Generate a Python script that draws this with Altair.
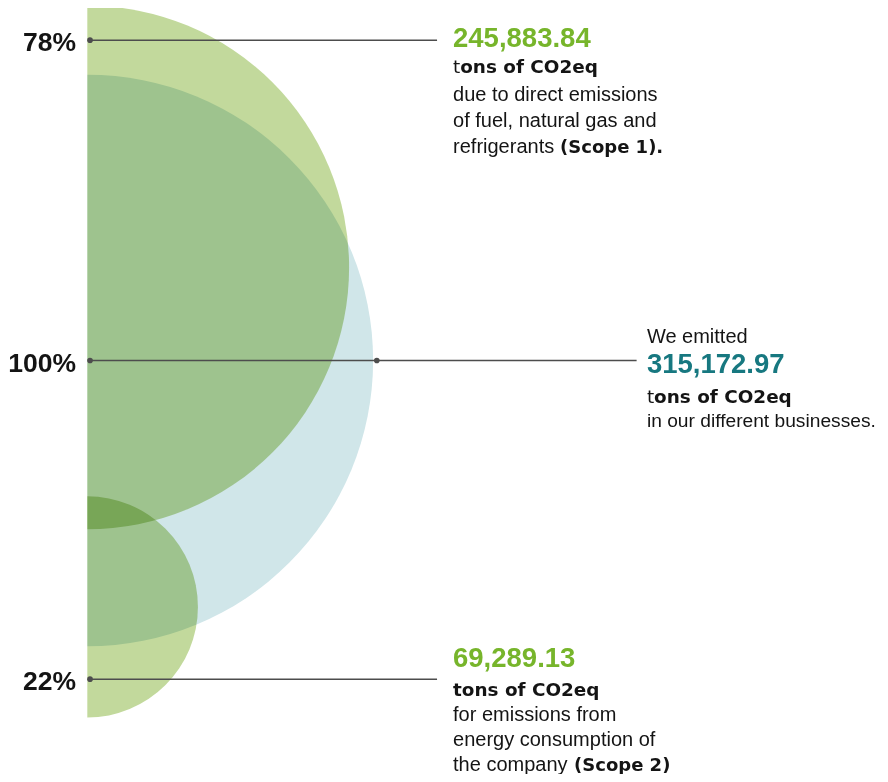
import math
import altair as alt
import pandas as pd

# ---------------- data ----------------
pct_labels = ["78%", "100%", "22%"]
pct_values = [78, 100, 22]
tons_labels = ["245,883.84", "315,172.97", "69,289.13"]

circle_names = ["Total", "Scope 1", "Scope 2"]
circle_radius = [100, 91.6, 38.7]          # relative radius (Total = 100)
circle_center_y = [0, 32.6, -86.3]         # vertical centre, same units
circle_colors = ["#d0e6e9", "#c2d99c", "#c2d99c"]

leader_y = [112.2, 0, -111.6]              # 78%, 100%, 22%
leader_start = [0.95, 0.95, 0.95]
leader_end = [122.5, 192.4, 122.5]
dot_x = [0.95, 0.95, 0.95, 101.4]
dot_y = [112.2, 0, -111.6, 0]
text_x = [128.1, 196.0, 128.1]

tons_word_t = "t"
tons_word_rest = "ons of CO2eq"
tons_word_full = "tons of CO2eq"
scope1_body = ["due to direct emissions", "of fuel, natural gas and", "refrigerants "]
scope1_tag = "(Scope 1)."
total_intro = "We emitted"
total_body = "in our different businesses."
scope2_body = ["for emissions from", "energy consumption of", "the company "]
scope2_tag = "(Scope 2)"

# ---------------- styling ----------------
W, H = 872, 766
XS = alt.Scale(domain=[-27.78, 277.65], nice=False, zero=False)
YS = alt.Scale(domain=[-144.83, 123.47], nice=False, zero=False)
BODY_FONT = "Liberation Sans"
HEAVY_FONT = "DejaVu Sans"
GREEN = "#77b52b"
TEAL = "#177880"
INK = "#141414"
LINE = "#4d4d4d"

ONE = pd.DataFrame({"k": [0]})


def txt(text, x, y, dy, size, font=BODY_FONT, weight="normal", color=INK,
        dx=0, align="left", line_height=None):
    kw = dict(text=text, align=align, baseline="alphabetic", dx=dx, dy=dy,
              fontSize=size, font=font, fontWeight=weight, color=color)
    if line_height is not None:
        kw["lineHeight"] = line_height
    return alt.Chart(ONE).mark_text(**kw).encode(
        x=alt.X(datum=x, scale=XS, axis=None),
        y=alt.Y(datum=y, scale=YS, axis=None),
    )


circles_df = pd.DataFrame({
    "name": circle_names, "cx": [0, 0, 0], "cy": circle_center_y,
    "r": circle_radius, "color": circle_colors,
})
arcs = alt.Chart(circles_df).mark_arc(blend="multiply").encode(
    x=alt.X("cx:Q", scale=XS, axis=None),
    y=alt.Y("cy:Q", scale=YS, axis=None),
    radius=alt.Radius("r:Q", stack=None,
                      scale=alt.Scale(type="linear", domain=[0, 100],
                                      range=[0, 285.8], zero=True)),
    theta=alt.value(0),
    theta2=alt.value(math.pi),
    color=alt.Color("color:N", scale=None),
)

leaders_df = pd.DataFrame({"y": leader_y, "x0": leader_start, "x1": leader_end})
rules = alt.Chart(leaders_df).mark_rule(color=LINE, strokeWidth=1.5).encode(
    x=alt.X("x0:Q", scale=XS, axis=None),
    x2="x1:Q",
    y=alt.Y("y:Q", scale=YS, axis=None),
)

dots_df = pd.DataFrame({"x": dot_x, "y": dot_y})
dots = alt.Chart(dots_df).mark_circle(size=32, color=LINE, opacity=1).encode(
    x=alt.X("x:Q", scale=XS, axis=None),
    y=alt.Y("y:Q", scale=YS, axis=None),
)

pct_df = pd.DataFrame({"label": pct_labels, "value": pct_values, "y": leader_y, "x": [0, 0, 0]})
pcts = alt.Chart(pct_df).mark_text(
    align="right", baseline="alphabetic", dx=-11.3, dy=11.3, fontSize=26.5,
    font=BODY_FONT, fontWeight="bold", color=INK,
).encode(
    x=alt.X("x:Q", scale=XS, axis=None),
    y=alt.Y("y:Q", scale=YS, axis=None),
    text="label:N",
)

layers = [arcs, rules, dots, pcts]

# Block 1 (Scope 1)
x1, y1 = text_x[0], leader_y[0]
layers += [
    txt(tons_labels[0], x1, y1, 6.4, 27.5, weight="bold", color=GREEN),
    txt(tons_word_t, x1, y1, 33, 18.4, font=HEAVY_FONT),
    txt(tons_word_rest, x1, y1, 33, 18.4, font=HEAVY_FONT, weight="bold", dx=7.2),
    txt(scope1_body, x1, y1, 60.7, 20, line_height=26.2),
    txt(scope1_tag, x1, y1, 113, 18, font=HEAVY_FONT, weight="bold", dx=107),
]

# Block 2 (Total)
x2, y2 = text_x[1], leader_y[1]
layers += [
    txt(total_intro, x2, y2, -17.2, 20),
    txt(tons_labels[1], x2, y2, 12.2, 27.5, weight="bold", color=TEAL),
    txt(tons_word_t, x2, y2, 42.2, 18.4, font=HEAVY_FONT),
    txt(tons_word_rest, x2, y2, 42.2, 18.4, font=HEAVY_FONT, weight="bold", dx=7.2),
    txt(total_body, x2, y2, 66.2, 19.2),
]

# Block 3 (Scope 2)
x3, y3 = text_x[2], leader_y[2]
layers += [
    txt(tons_labels[2], x3, y3, -11.8, 27.5, weight="bold", color=GREEN),
    txt(tons_word_full, x3, y3, 16.4, 18.4, font=HEAVY_FONT, weight="bold"),
    txt(scope2_body, x3, y3, 42.2, 20, line_height=24.6),
    txt(scope2_tag, x3, y3, 91.4, 18, font=HEAVY_FONT, weight="bold", dx=121),
]

chart = alt.layer(*layers).properties(
    width=W, height=H, padding=0,
    autosize=alt.AutoSizeParams(type="none"),
).configure_view(strokeWidth=0)

chart.save("out.html", embed_options={"renderer": "svg", "actions": False})
